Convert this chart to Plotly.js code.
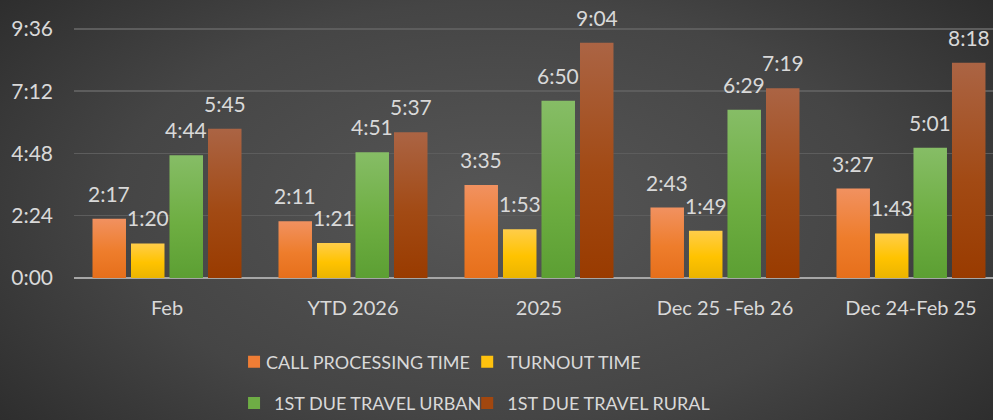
<!DOCTYPE html>
<html>
<head>
<meta charset="utf-8">
<script src="https://cdn.plot.ly/plotly-3.0.1.min.js"></script>
<style>
html,body{margin:0;padding:0;}
body{width:993px;height:420px;overflow:hidden;
background:radial-gradient(ellipse 70% 90% at 50% 50%, #575757 0%, #454545 55%, #2e2e2e 90%, #282828 100%);}
#chart{width:993px;height:420px;}
#chart text.legendtext{transform:translate(-8px,0px);}
</style>
</head>
<body>
<div id="chart"></div>
<script>
// Data (seconds)
const categories = ["Feb", "YTD 2026", "2025", "Dec 25 -Feb 26", "Dec 24-Feb 25"];
const seriesNames = ["CALL PROCESSING TIME", "TURNOUT TIME", "1ST DUE TRAVEL URBAN", "1ST DUE TRAVEL RURAL"];
const callProcessing = [137, 131, 215, 163, 207];
const turnout = [80, 81, 113, 109, 103];
const travelUrban = [284, 291, 410, 389, 301];
const travelRural = [345, 337, 544, 439, 498];
const yTickVals = [0, 144, 288, 432, 576];
const yTickText = ["0:00", "2:24", "4:48", "7:12", "9:36"];

const seriesValues = [callProcessing, turnout, travelUrban, travelRural];
const colors = ["#ef7d35", "#ffc20e", "#6ead45", "#a2470f"];
const gradStops = [["#f19160", "#ee7d2c", "#e66f1b"], ["#ffcd4a", "#ffc300", "#ebb400"],
                   ["#86bd66", "#6eae42", "#5c9f33"], ["#ab6444", "#a24a14", "#993b00"]];
const legendIds = ["legend", "legend2", "legend3", "legend4"];
const legendPos = [[0.2357, 0.138], [0.4705, 0.138], [0.2357, 0.040], [0.4705, 0.040]];

function fmt(s){ const m = Math.floor(s/60), r = s%60; return m + ":" + (r<10?"0":"") + r; }

const bargap = 0.172, bargroupgap = 0.13;
const traces = seriesValues.map((vals, i) => ({
  type: "bar", name: seriesNames[i], x: categories, y: vals,
  marker: {color: colors[i], line: {width: 0}},
  legend: legendIds[i], hoverinfo: "skip"
}));

const annotations = [];
seriesValues.forEach((vals, i) => {
  const slot = (1 - bargap) / seriesValues.length;
  vals.forEach((v, k) => {
    annotations.push({
      x: k + (i - 1.5) * slot, y: v, xref: "x", yref: "y",
      text: fmt(v), showarrow: false, yanchor: "bottom", yshift: 11,
      font: {family: "Lato, sans-serif", size: 21, color: "#d9d9d9"}
    });
  });
});

const tickFont = {family: "Lato, sans-serif", size: 21, color: "#d9d9d9"};
const layout = {
  width: 993, height: 420,
  margin: {l: 74, r: 0, t: 0, b: 142},
  paper_bgcolor: "rgba(0,0,0,0)", plot_bgcolor: "rgba(0,0,0,0)",
  barmode: "group", bargap: bargap, bargroupgap: bargroupgap,
  xaxis: {type: "category", range: [-0.5, 4.441], showgrid: false, zeroline: false,
    showline: false, ticks: "", tickfont: {family: "Lato, sans-serif", size: 20, color: "#d9d9d9"},
    ticklabelstandoff: 16, fixedrange: true},
  yaxis: {range: [0, 643], tickvals: yTickVals, ticktext: yTickText, showgrid: true,
    gridcolor: "#5d5d5d", gridwidth: 1.5, zeroline: true, zerolinecolor: "#a6a6a6", zerolinewidth: 2,
    showline: false, ticks: "", tickfont: tickFont, ticklabelstandoff: 20, fixedrange: true},
  showlegend: true,
  annotations: annotations
};
legendIds.forEach((id, i) => {
  layout[id] = {orientation: "h", xref: "container", yref: "container",
    x: legendPos[i][0], y: legendPos[i][1], xanchor: "left", yanchor: "middle",
    font: {family: "Lato, sans-serif", size: 18, color: "#d9d9d9"}, bgcolor: "rgba(0,0,0,0)"};
});

Plotly.newPlot("chart", traces, layout, {staticPlot: true, displayModeBar: false}).then(gd => {
  const svg = gd.querySelector(".main-svg");
  const NS = "http://www.w3.org/2000/svg";
  let defs = svg.querySelector("defs");
  if (!defs) { defs = document.createElementNS(NS, "defs"); svg.insertBefore(defs, svg.firstChild); }
  gradStops.forEach((st, i) => {
    const lg = document.createElementNS(NS, "linearGradient");
    lg.setAttribute("id", "bargrad" + i);
    lg.setAttribute("x1", "0"); lg.setAttribute("y1", "0");
    lg.setAttribute("x2", "0"); lg.setAttribute("y2", "1");
    [[0, st[0]], [0.55, st[1]], [1, st[2]]].forEach(([o, c]) => {
      const s = document.createElementNS(NS, "stop");
      s.setAttribute("offset", o); s.setAttribute("stop-color", c);
      lg.appendChild(s);
    });
    defs.appendChild(lg);
  });
  gd.querySelectorAll(".trace.bars").forEach((t, i) => {
    t.querySelectorAll(".point path").forEach(p => { p.style.fill = "url(#bargrad" + i + ")"; });
  });
});
</script>
</body>
</html>
